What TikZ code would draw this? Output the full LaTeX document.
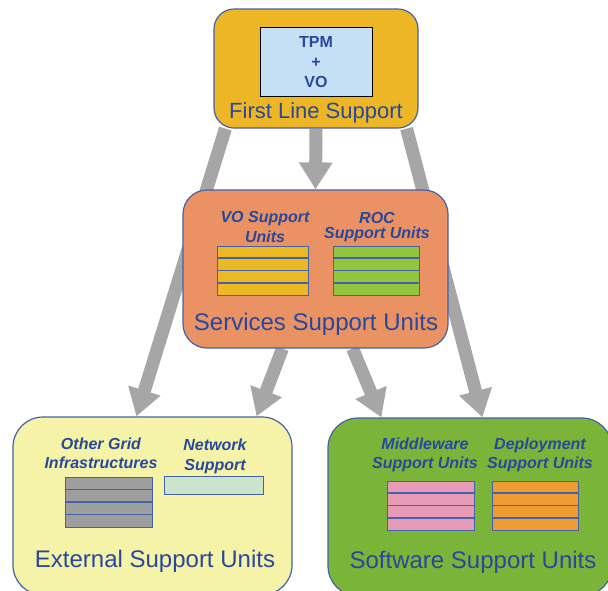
\documentclass[tikz,border=0pt]{standalone}
\usepackage{fontspec}
\setmainfont{Liberation Sans}
\usetikzlibrary{arrows.meta,backgrounds,calc}

\definecolor{edgeblue}{RGB}{68,98,168}
\definecolor{textblue}{RGB}{40,72,156}
\definecolor{arrowgray}{RGB}{166,166,166}
\definecolor{firstfill}{RGB}{236,182,38}
\definecolor{tpmfill}{RGB}{197,224,244}
\definecolor{servfill}{RGB}{234,146,100}
\definecolor{extfill}{RGB}{245,243,168}
\definecolor{softfill}{RGB}{122,181,58}
\definecolor{vofill}{RGB}{236,184,36}
\definecolor{rocfill}{RGB}{146,196,62}
\definecolor{gridfill}{RGB}{158,158,158}
\definecolor{netfill}{RGB}{204,228,204}
\definecolor{midfill}{RGB}{232,155,182}
\definecolor{depfill}{RGB}{236,156,48}

\tikzset{
  unit/.style={draw=edgeblue, line width=1.2pt, inner sep=0pt},
  unittext/.style={text=textblue, inner sep=0pt, font=\fontsize{24}{28}\selectfont},
  sulabel/.style={text=textblue, inner sep=0pt, align=center,
    font=\fontsize{16}{17}\selectfont\bfseries\itshape},
  sustack/.style={draw=edgeblue, line width=1pt, inner sep=0pt, minimum height=49pt},
  flow/.style={draw=arrowgray, line width=13pt, -{Triangle[width=32pt,length=27pt]}}
}

\begin{document}
\begin{tikzpicture}[x=1pt,y=-1pt]

    \useasboundingbox (0,0) rectangle (608,590);
    \clip (0,0) rectangle (608,590);

    %boxes:
    \node[unit, fill=firstfill, rounded corners=20pt, minimum width=204pt, minimum height=119pt] (first) at (316,68.5) {};
    \node[unit, fill=servfill, rounded corners=24pt, minimum width=265pt, minimum height=158pt] (services) at (315.5,269) {};
    \node[unit, fill=extfill, rounded corners=30pt, minimum width=279pt, minimum height=178pt] (ext) at (152.5,506) {};
    \node[unit, fill=softfill, rounded corners=30pt, minimum width=284pt, minimum height=178pt] (soft) at (470,507) {};

    %first line support:
    \node[draw=black, line width=1pt, fill=tpmfill, minimum width=112pt, minimum height=69pt] (tpm) at (316,61.5) {};
    \node[text=textblue, align=center, font=\fontsize{16}{20}\selectfont\bfseries] (tpmtext) at (316,62) {TPM\\+\\VO};
    \node[unittext, font=\fontsize{22}{26}\selectfont] (firsttext) at (316,113) {First Line Support};

    %services support units:
    \node[sulabel, font=\fontsize{16}{20}\selectfont\bfseries\itshape] (volabel) at (265,227) {VO Support\\Units};
    \node[sulabel, font=\fontsize{16}{15}\selectfont\bfseries\itshape] (roclabel) at (377,227) {ROC\\Support Units};
    \node[sustack, fill=vofill, minimum width=91pt] (vo) at (262.5,270.5) {};
    \node[sustack, fill=rocfill, minimum width=86pt] (roc) at (376,270.5) {};
    \node[unittext] (servtext) at (316,324) {Services Support Units};

    %external support units:
    \node[sulabel, font=\fontsize{16}{19}\selectfont\bfseries\itshape] (gridlabel) at (101,453) {Other Grid\\Infrastructures};
    \node[sulabel, font=\fontsize{16}{20}\selectfont\bfseries\itshape] (netlabel) at (215,456) {Network\\Support};
    \node[sustack, fill=gridfill, minimum width=87pt, minimum height=50pt] (grid) at (108.5,502) {};
    \node[draw=edgeblue, line width=1pt, fill=netfill, minimum width=99pt, minimum height=18pt] (net) at (213.5,485.5) {};
    \node[unittext] (exttext) at (155,561) {External Support Units};

    %software support units:
    \node[sulabel, font=\fontsize{16}{19}\selectfont\bfseries\itshape] (midlabel) at (425,454.5) {Middleware\\Support Units};
    \node[sulabel, font=\fontsize{16}{19}\selectfont\bfseries\itshape] (deplabel) at (540,454.5) {Deployment\\Support Units};
    \node[sustack, fill=midfill, minimum width=87pt] (mid) at (431,505.5) {};
    \node[sustack, fill=depfill, minimum width=86pt] (dep) at (535,505.5) {};
    \node[unittext] (softtext) at (473,562) {Software Support Units};

    %rows of the stacks:
    \foreach \s in {vo,roc,grid,mid,dep}
      \foreach \k in {1,2,3}
        \draw[edgeblue, line width=1.2pt] ($(\s.north west)!\k/4!(\s.south west)$) -- ($(\s.north east)!\k/4!(\s.south east)$);

    %arrows behind the boxes:
    \begin{scope}[on background layer]
      \draw[flow] ([xshift=12pt]first.south west) -- ([xshift=124pt]ext.north west);
      \draw[flow] (first.south) -- (services.north);
      \draw[flow] ([xshift=-12pt]first.south east) -- ([xshift=155pt]soft.north west);
      \draw[flow] ([xshift=100pt]services.south west) -- ([xshift=-36pt]ext.north east);
      \draw[flow] ([xshift=-96pt]services.south east) -- ([xshift=54pt]soft.north west);
    \end{scope}

\end{tikzpicture}
\end{document}
